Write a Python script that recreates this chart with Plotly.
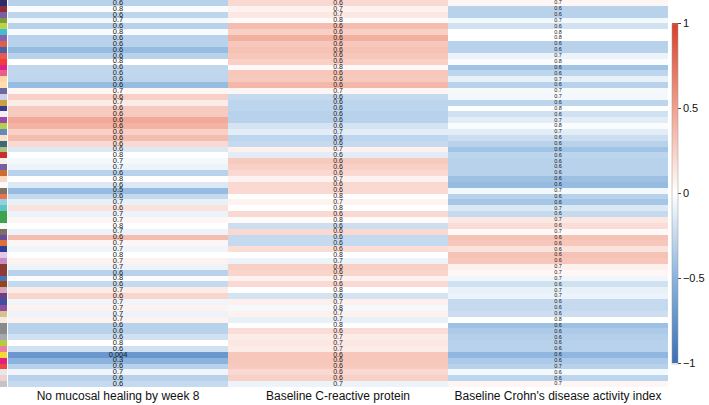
import plotly.graph_objects as go

# columns of the heatmap (bottom labels)
outcomes = ["No mucosal healing by week 8",
            "Baseline C-reactive protein",
            "Baseline Crohn's disease activity index"]

# correlation (colour) per row
r_healing = [-0.3, -0.02, -0.28, -0.05, -0.3, -0.03, -0.3, -0.3, -0.45, -0.3, 0.0, -0.27, -0.27, -0.28,
             -0.45, 0.05, 0.25, 0.1, 0.28, 0.28, 0.45, 0.4, 0.25,
             0.35, 0.2, -0.15, 0.0, -0.05, -0.08, -0.3, 0.0, -0.15, -0.45, -0.25, -0.1, 0.15, -0.08,
             0.05, 0.0, -0.08, 0.35, 0.05, -0.07, 0.0, 0.07, -0.08,
             -0.3, -0.02, -0.25, 0.1, 0.22, -0.07, 0.07, -0.08, 0.07, -0.3, -0.3, -0.2, 0.0, -0.2,
             -0.7, -0.5, -0.3, -0.07, -0.3, -0.25]
r_crp = [0.2, 0.07, 0.12, 0.02, 0.35, 0.25, 0.42, 0.3, 0.32, 0.3, 0.25, 0.03, 0.3, 0.28, 0.38, 0.05,
         -0.25, -0.28, -0.28, -0.3, -0.3, -0.18, -0.12,
         -0.28, -0.25, 0.08, -0.12, 0.28, 0.25, 0.2, 0.07, 0.2, 0.2, 0.0, 0.06, 0.0, 0.2, 0.02, -0.22,
         0.2, -0.25, -0.25, 0.18, 0.0, -0.08, 0.25,
         0.22, 0.07, 0.2, 0.0, -0.18, 0.08, -0.04, 0.07, -0.1, 0.0, 0.18, 0.1, 0.12, 0.1, 0.3, 0.3,
         0.28, 0.2, 0.25, -0.08]
r_cdai = [0.05, -0.3, -0.3, -0.05, -0.2, 0.0, 0.0, -0.3, -0.3, -0.08, -0.02, -0.4, -0.28, -0.1, -0.3,
          -0.04, -0.05, -0.28, 0.0, -0.2, -0.12, -0.02, -0.12,
          -0.22, -0.3, -0.4, -0.28, -0.3, -0.3, -0.3, -0.42, -0.45, -0.05, -0.3, -0.38, -0.15, -0.25,
          0.12, 0.18, 0.03, 0.32, 0.3, 0.15, 0.32, 0.3, 0.08,
          0.04, -0.06, -0.2, -0.1, -0.08, -0.25, -0.25, -0.22, 0.0, -0.42, -0.35, -0.32, -0.3, -0.3,
          -0.48, -0.35, -0.3, -0.05, -0.28, 0.05]

# p-values printed in the cells
p_healing = ["0.6", "0.8", "0.6", "0.7", "0.6", "0.8", "0.6", "0.6", "0.6", "0.6", "0.8", "0.6", "0.6",
             "0.6", "0.6", "0.7", "0.6", "0.7", "0.6", "0.6", "0.6", "0.6", "0.6",
             "0.6", "0.6", "0.6", "0.8", "0.7", "0.7", "0.6", "0.8", "0.6", "0.5", "0.6", "0.7", "0.6",
             "0.7", "0.7", "0.8", "0.7", "0.6", "0.7", "0.7", "0.8", "0.7", "0.7",
             "0.6", "0.8", "0.6", "0.7", "0.6", "0.7", "0.7", "0.7", "0.7", "0.6", "0.6", "0.6", "0.8",
             "0.6", "0.004", "0.3", "0.6", "0.7", "0.6", "0.6"]
p_crp = ["0.6", "0.7", "0.7", "0.8", "0.6", "0.6", "0.6", "0.6", "0.6", "0.6", "0.6", "0.8", "0.6",
         "0.6", "0.6", "0.7", "0.6", "0.6", "0.6", "0.6", "0.6", "0.6", "0.7",
         "0.6", "0.6", "0.7", "0.6", "0.6", "0.6", "0.6", "0.7", "0.6", "0.6", "0.8", "0.7", "0.8",
         "0.6", "0.8", "0.6", "0.6", "0.6", "0.6", "0.6", "0.8", "0.7", "0.6",
         "0.6", "0.7", "0.6", "0.8", "0.6", "0.7", "0.8", "0.7", "0.7", "0.8", "0.6", "0.7", "0.7",
         "0.7", "0.6", "0.6", "0.6", "0.6", "0.6", "0.7"]
p_cdai = ["0.7", "0.6", "0.6", "0.7", "0.6", "0.8", "0.8", "0.6", "0.6", "0.7", "0.8", "0.6", "0.6",
          "0.7", "0.6", "0.7", "0.7", "0.6", "0.8", "0.6", "0.7", "0.8", "0.7",
          "0.6", "0.6", "0.6", "0.6", "0.6", "0.6", "0.6", "0.6", "0.6", "0.7", "0.6", "0.6", "0.7",
          "0.6", "0.7", "0.6", "0.7", "0.6", "0.6", "0.6", "0.6", "0.6", "0.7",
          "0.7", "0.7", "0.6", "0.7", "0.7", "0.6", "0.6", "0.6", "0.8", "0.6", "0.6", "0.6", "0.6",
          "0.6", "0.6", "0.6", "0.7", "0.6", "0.6", "0.7"]

# row side colours (left strip)
side_colors = ["#2C2A6B", "#8B2E3A", "#7B5EA7", "#7E9B3A", "#B8D54A", "#3FC0D0", "#8A60B0", "#D9614A",
               "#4C5FA0", "#E85A4F", "#F03C3C", "#E0208A", "#E8608A", "#FFD6A8", "#FFDFB0", "#6E6A9E",
               "#CDD0EA", "#C8A040", "#3A3A90", "#F4EEF6", "#9A4AA0", "#B0D050", "#6A88B8", "#F8E0C8",
               "#3E6A78", "#A8C080", "#C83030", "#F6EEE8", "#7060A8", "#D06A30", "#F8D8C0", "#FAFAFA",
               "#807060", "#F07050", "#8FD3E0", "#5EC4C8", "#3FA34D", "#3FA34D", "#F8F8F8", "#7D6E66",
               "#6A4C9C", "#E0703A", "#2E3F95", "#E6C6E6", "#C58CC8", "#8B3E2F", "#8E3A3A", "#4A73B3",
               "#93451E", "#D7A3B8", "#6B3F86", "#3E4FA0", "#8E4FA3", "#D9C08F", "#F2EAE0", "#8A8A8A",
               "#8A8A8A", "#A8A8B0", "#B3CB3E", "#E9809F", "#F7D733", "#E0207F", "#F04545", "#E8E8E8",
               "#F0D0D0", "#C4C4C4"]

rows = [f"r{i:02d}" for i in range(len(r_healing))]
z = [list(t) for t in zip(r_healing, r_crp, r_cdai)]

colorscale = [[0.0, "#3B6FB6"], [0.25, "#8AB4DE"], [0.5, "#FFFFFF"],
              [0.75, "#F0A18C"], [1.0, "#D6402B"]]

fig = go.Figure()

fig.add_trace(go.Heatmap(
    z=z, x=outcomes, y=rows, zmin=-1, zmax=1, colorscale=colorscale,
    colorbar=dict(thickness=6, len=0.879, lenmode="fraction", y=0.5, yanchor="middle",
                  x=1.006, xanchor="left", xpad=0, ypad=0,
                  outlinewidth=0.5, outlinecolor="#999999",
                  tickvals=[-1, -0.5, 0, 0.5, 1], ticktext=["\u22121", "\u22120.5", "0", "0.5", "1"],
                  ticks="outside", ticklen=3, tickcolor="#444", tickfont=dict(size=11, color="#111")),
    hoverinfo="skip"))

# cell notes, font shrinks a little from left to right as in the original
txt_x, txt_y, txt, txt_size = [], [], [], []
for col, notes, size in zip(outcomes, [p_healing, p_crp, p_cdai], [7.5, 7, 5.5]):
    for row, note in zip(rows, notes):
        txt_x.append(col)
        txt_y.append(row)
        txt.append(note)
        txt_size.append(size)

fig.add_trace(go.Scatter(x=txt_x, y=txt_y, text=txt, mode="text",
                         textfont=dict(size=txt_size, color="#1a1a1a"),
                         hoverinfo="skip", showlegend=False))

fig.add_trace(go.Bar(x=[1] * len(rows), y=rows, orientation="h", marker_color=side_colors,
                     marker_line_width=0, xaxis="x2", yaxis="y", showlegend=False, hoverinfo="skip"))

n = len(rows)
fig.update_layout(
    width=709, height=405,
    margin=dict(l=0, r=41, t=0, b=18),
    plot_bgcolor="white", paper_bgcolor="white",
    font=dict(family="Liberation Sans, Arial, sans-serif", color="#111"),
    bargap=0,
    showlegend=False,
    xaxis=dict(domain=[0.012, 1], range=[-0.5, len(outcomes) - 0.5], showgrid=False,
               zeroline=False, ticks="", tickfont=dict(size=12), fixedrange=True),
    xaxis2=dict(domain=[0, 0.0105], anchor="y", range=[0, 1], visible=False),
    yaxis=dict(categoryorder="array", categoryarray=rows, range=[n - 0.5, -0.5],
               visible=False, fixedrange=True),
)

# drop the browser's default body margin so the figure sits at the window corner
fig.write_html("out.html", config={"displayModeBar": False},
               post_script="document.body.style.margin='0';")
